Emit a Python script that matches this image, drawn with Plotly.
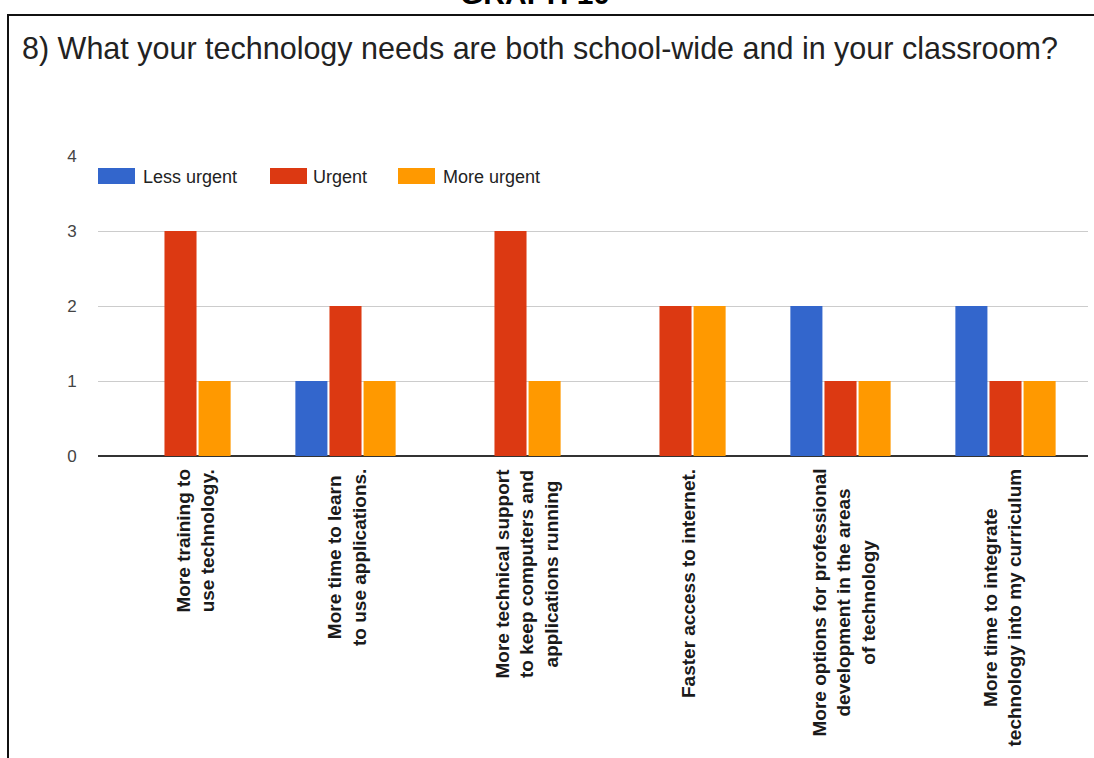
import plotly.graph_objects as go

# ---- data ----
categories = [
    "More training to<br>use technology.",
    "More time to learn<br>to use applications.",
    "More technical support<br>to keep computers and<br>applications running",
    "Faster access to internet.",
    "More options for professional<br>development in the areas<br>of technology",
    "More time to integrate<br>technology into my curriculum",
]
less_urgent = [0, 1, 0, 0, 2, 2]
urgent = [3, 2, 3, 2, 1, 1]
more_urgent = [1, 1, 1, 2, 1, 1]
series_names = ["Less urgent", "Urgent", "More urgent"]
y_ticks = [0, 1, 2, 3, 4]
title_text = "8) What your technology needs are both school-wide and in your classroom?"
header_text = "GRAPH 10"

# ---- style ----
colors = ["#3366CC", "#DC3912", "#FF9900"]
FONT = "Liberation Sans, Arial, sans-serif"
W, H = 1094, 758
L, R, T, B = 98, 6, 156, 302
PW, PH = W - L - R, H - T - B


def px_x(p):
    return (p - L) / PW


def px_y(p):
    return (H - B - p) / PH


label_xshift = [15, 1, 16, 13, 3, -3]

fig = go.Figure()
for name, vals, col in zip(series_names, [less_urgent, urgent, more_urgent], colors):
    fig.add_trace(go.Bar(x=categories, y=vals, name=name, marker_color=col,
                         marker_line_width=0, showlegend=False))

shapes = []
annotations = []

# custom legend
legend_x = [98, 270, 398]
text_x = [141, 311, 441]
for i, (name, col) in enumerate(zip(series_names, colors)):
    shapes.append(dict(type="rect", xref="paper", yref="paper",
                       x0=px_x(legend_x[i]), x1=px_x(legend_x[i] + 37),
                       y0=px_y(184), y1=px_y(168), fillcolor=col, line_width=0))
    annotations.append(dict(text=name, xref="paper", yref="paper",
                            x=px_x(text_x[i]), y=px_y(176.5), xanchor="left", yanchor="middle",
                            showarrow=False, font=dict(family=FONT, size=18, color="#222222")))

# category labels
for i, cat in enumerate(categories):
    annotations.append(dict(text="<b>" + cat.replace("<br>", "</b><br><b>") + "</b>",
                            x=cat, y=0, xref="x", yref="y",
                            xanchor="center", yanchor="top", yshift=-11, xshift=label_xshift[i],
                            textangle=-90, align="center", showarrow=False,
                            font=dict(family=FONT, size=19, color="#1a1a1a")))

# title and header
annotations.append(dict(text=title_text, xref="paper", yref="paper",
                        x=px_x(20), y=px_y(48.5), xanchor="left", yanchor="middle",
                        showarrow=False, font=dict(family=FONT, size=30.5, color="#222222")))
annotations.append(dict(text="<b>" + header_text + "</b>", xref="paper", yref="paper",
                        x=px_x(535), y=px_y(-7), xanchor="center", yanchor="middle",
                        showarrow=False, font=dict(family=FONT, size=30, color="#000000")))

# frame lines
shapes.append(dict(type="line", xref="paper", yref="paper",
                   x0=px_x(8), x1=px_x(1100), y0=px_y(15), y1=px_y(15),
                   line=dict(color="#111111", width=2)))
shapes.append(dict(type="line", xref="paper", yref="paper",
                   x0=px_x(8), x1=px_x(8), y0=px_y(14), y1=px_y(770),
                   line=dict(color="#111111", width=2)))

fig.update_layout(
    width=W, height=H,
    margin=dict(l=L, r=R, t=T, b=B),
    paper_bgcolor="white", plot_bgcolor="white",
    barmode="group", bargap=0.38, bargroupgap=0.06,
    shapes=shapes, annotations=annotations,
    showlegend=False,
    font=dict(family=FONT),
)
fig.update_xaxes(showticklabels=False, showgrid=False, zeroline=False, showline=False,
                 ticks="")
fig.update_yaxes(range=[0, 4], tickvals=y_ticks, showgrid=True, gridcolor="#CCCCCC",
                 gridwidth=1, zeroline=True, zerolinecolor="#333333", zerolinewidth=2,
                 showline=False, ticks="outside", ticklen=17, tickcolor="rgba(0,0,0,0)",
                 tickfont=dict(family=FONT, size=17, color="#444444"))

fig.write_html("out.html", config={"displayModeBar": False},
               post_script="document.body.style.margin='0';document.body.style.overflow='hidden';")
